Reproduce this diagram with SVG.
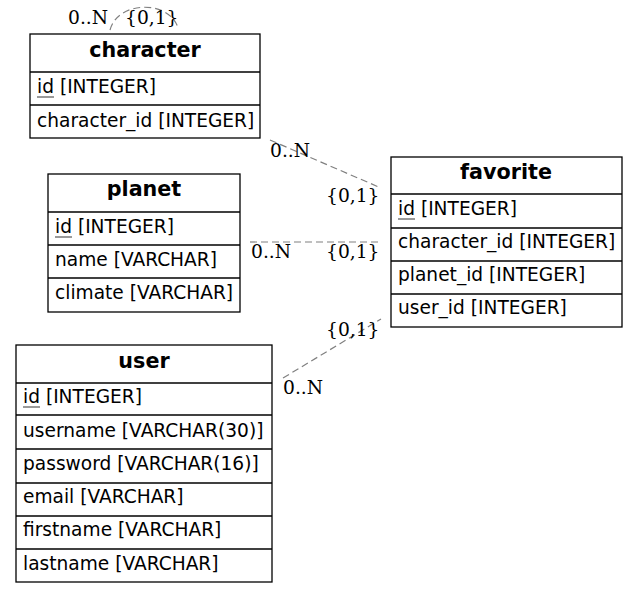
<svg xmlns="http://www.w3.org/2000/svg" width="637" height="593" viewBox="0 0 637 593">
<style>
.box{fill:#fff;stroke:#000;stroke-width:1.3}
.sep{stroke:#000;stroke-width:1.3}
.hd{font-family:"DejaVu Sans",sans-serif;font-weight:bold;font-size:20.7px;text-anchor:middle;fill:#000}
.rw{font-family:"DejaVu Sans",sans-serif;font-size:18.6px;fill:#000}
.ul{stroke:#000;stroke-width:0.8}
.edge{fill:none;stroke:#808080;stroke-width:1.2;stroke-dasharray:7,4}
.lb{font-family:"DejaVu Serif",serif;font-size:18.7px;fill:#000}
</style>
<rect width="637" height="593" fill="#fff"/>
<g id="connectors">
<path class="edge" d="M110,30 C118,0 170,0 178,28"/>
<line class="edge" x1="270" y1="140" x2="381" y2="188"/>
<line class="edge" x1="250" y1="242" x2="381" y2="242"/>
<line class="edge" x1="283" y1="378" x2="381" y2="319"/>
<text class="lb" x="68" y="24">0..N</text>
<text class="lb" x="125" y="24">{0,1}</text>
<text class="lb" x="270" y="157">0..N</text>
<text class="lb" x="326" y="202">{0,1}</text>
<text class="lb" x="251" y="258">0..N</text>
<text class="lb" x="326" y="258">{0,1}</text>
<text class="lb" x="326" y="336">{0,1}</text>
<text class="lb" x="283" y="394">0..N</text>
</g>
<g id="character">
<rect class="box" x="30" y="34" width="230" height="104"/>
<line class="sep" x1="30" y1="72" x2="260" y2="72"/>
<line class="sep" x1="30" y1="105" x2="260" y2="105"/>
<text class="hd" x="145" y="57">character</text>
<text class="rw" x="37" y="93">id [INTEGER]</text>
<line class="ul" x1="37" y1="97" x2="54" y2="97"/>
<text class="rw" x="37" y="127">character_id [INTEGER]</text>
</g>
<g id="planet">
<rect class="box" x="48" y="174" width="192" height="138"/>
<line class="sep" x1="48" y1="212" x2="240" y2="212"/>
<line class="sep" x1="48" y1="245" x2="240" y2="245"/>
<line class="sep" x1="48" y1="278" x2="240" y2="278"/>
<text class="hd" x="144" y="196">planet</text>
<text class="rw" x="55" y="233">id [INTEGER]</text>
<line class="ul" x1="55" y1="237" x2="72" y2="237"/>
<text class="rw" x="55" y="266">name [VARCHAR]</text>
<text class="rw" x="55" y="299">climate [VARCHAR]</text>
</g>
<g id="user">
<rect class="box" x="16" y="345" width="256" height="237"/>
<line class="sep" x1="16" y1="383" x2="272" y2="383"/>
<line class="sep" x1="16" y1="415" x2="272" y2="415"/>
<line class="sep" x1="16" y1="449" x2="272" y2="449"/>
<line class="sep" x1="16" y1="483" x2="272" y2="483"/>
<line class="sep" x1="16" y1="516" x2="272" y2="516"/>
<line class="sep" x1="16" y1="549" x2="272" y2="549"/>
<text class="hd" x="144" y="368">user</text>
<text class="rw" x="23" y="403">id [INTEGER]</text>
<line class="ul" x1="23" y1="407" x2="40" y2="407"/>
<text class="rw" x="23" y="437">username [VARCHAR(30)]</text>
<text class="rw" x="23" y="470">password [VARCHAR(16)]</text>
<text class="rw" x="23" y="503">email [VARCHAR]</text>
<text class="rw" x="23" y="536">firstname [VARCHAR]</text>
<text class="rw" x="23" y="570">lastname [VARCHAR]</text>
</g>
<g id="favorite">
<rect class="box" x="391" y="157" width="231" height="170"/>
<line class="sep" x1="391" y1="194" x2="622" y2="194"/>
<line class="sep" x1="391" y1="228" x2="622" y2="228"/>
<line class="sep" x1="391" y1="261" x2="622" y2="261"/>
<line class="sep" x1="391" y1="294" x2="622" y2="294"/>
<text class="hd" x="506" y="179">favorite</text>
<text class="rw" x="398" y="215">id [INTEGER]</text>
<line class="ul" x1="398" y1="219" x2="415" y2="219"/>
<text class="rw" x="398" y="248">character_id [INTEGER]</text>
<text class="rw" x="398" y="281">planet_id [INTEGER]</text>
<text class="rw" x="398" y="314">user_id [INTEGER]</text>
</g>
</svg>
